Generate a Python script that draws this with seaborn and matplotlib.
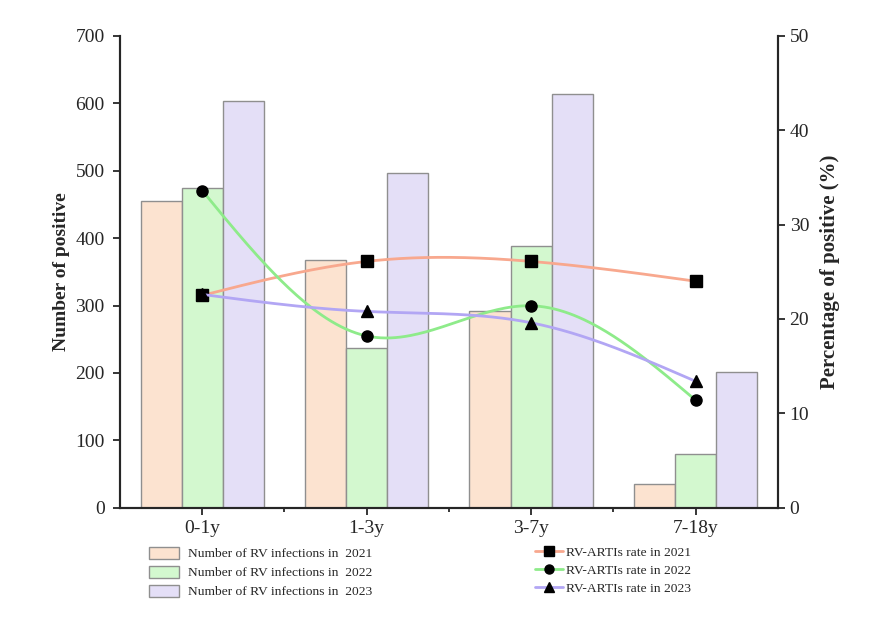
import numpy as np
import pandas as pd
import matplotlib
matplotlib.use("Agg")
import matplotlib.pyplot as plt
import seaborn as sns
from matplotlib.patches import Patch
from matplotlib.lines import Line2D

grupos = ["0-1y", "1-3y", "3-7y", "7-18y"]
anos = ["2021", "2022", "2023"]
casos_2021 = [455, 367, 292, 35]
casos_2022 = [474, 237, 388, 80]
casos_2023 = [603, 497, 614, 202]
taxa_2021 = [22.5, 26.1, 26.1, 24.0]
taxa_2022 = [33.6, 18.2, 21.4, 11.4]
taxa_2023 = [22.6, 20.8, 19.6, 13.4]

cores_barra = ["#FCE3D0", "#D3F8CF", "#E4DFF7"]
cores_linha = ["#F8A88E", "#8EEB8A", "#B2A6F4"]
marcadores = ["s", "o", "^"]


def spline_natural(x, y, n=200):
    # spline cubica natural so para desenhar a curva suave
    x = np.asarray(x, float)
    y = np.asarray(y, float)
    k = len(x)
    h = np.diff(x)
    A = np.zeros((k, k))
    b = np.zeros(k)
    A[0, 0] = 1
    A[-1, -1] = 1
    for i in range(1, k - 1):
        A[i, i - 1] = h[i - 1]
        A[i, i] = 2 * (h[i - 1] + h[i])
        A[i, i + 1] = h[i]
        b[i] = 6 * ((y[i + 1] - y[i]) / h[i] - (y[i] - y[i - 1]) / h[i - 1])
    M = np.linalg.solve(A, b)
    xs = np.linspace(x[0], x[-1], n)
    ys = np.empty_like(xs)
    for j, t in enumerate(xs):
        i = min(np.searchsorted(x, t, side="right") - 1, k - 2)
        a, c = x[i], x[i + 1]
        ys[j] = (M[i] * (c - t) ** 3 / (6 * h[i]) + M[i + 1] * (t - a) ** 3 / (6 * h[i])
                 + (y[i] / h[i] - M[i] * h[i] / 6) * (c - t)
                 + (y[i + 1] / h[i] - M[i + 1] * h[i] / 6) * (t - a))
    return xs, ys


df = pd.DataFrame({
    "grupo": grupos * 3,
    "ano": np.repeat(anos, 4),
    "casos": casos_2021 + casos_2022 + casos_2023,
})

sns.set_style("ticks")
plt.rcParams["font.family"] = ["Liberation Serif", "DejaVu Serif"]
plt.rcParams["axes.linewidth"] = 1.5

fig = plt.figure(figsize=(8.7, 6.17), dpi=100)
ax = fig.add_axes([0.138, 0.177, 0.756, 0.765])

sns.barplot(data=df, x="grupo", y="casos", hue="ano", palette=cores_barra,
            width=0.75, edgecolor="#8f8f8f", linewidth=1.0, saturation=1,
            legend=False, ax=ax)
ax.set_xlim(-0.5, 3.5)
ax.set_ylim(0, 700)
ax.set_yticks(range(0, 701, 100))
ax.set_xticks([0.5, 1.5, 2.5], minor=True)
ax.set_xlabel("")
ax.set_ylabel("Number of positive", fontsize=14, fontweight="bold")
ax.tick_params(axis="both", which="major", labelsize=14, direction="out", length=5, width=1.3)
ax.tick_params(axis="y", pad=6)
ax.tick_params(axis="x", which="minor", length=3, width=1.3)
ax.spines["top"].set_visible(False)

ax2 = ax.twinx()
xpos = np.arange(len(grupos))
for taxa, cor, mk in zip([taxa_2021, taxa_2022, taxa_2023], cores_linha, marcadores):
    xs, ys = spline_natural(xpos, taxa)
    ax2.plot(xs, ys, color=cor, lw=2)
    ax2.plot(xpos, taxa, ls="none", marker=mk, color="black", ms=8)
ax2.set_ylim(0, 50)
ax2.set_yticks(range(0, 51, 10))
ax2.set_ylabel("Percentage of positive (%)", fontsize=15, fontweight="bold", labelpad=8)
ax2.tick_params(axis="y", labelsize=14, direction="out", length=5, width=1.3)
ax2.spines["top"].set_visible(False)
ax2.spines["right"].set_linewidth(1.5)

h_barra = [Patch(facecolor=c, edgecolor="#8f8f8f", label=f"Number of RV infections in  {a}")
           for c, a in zip(cores_barra, anos)]
h_linha = [Line2D([], [], color=c, lw=2, marker=m, mfc="black", mec="black", ms=6.5,
                  label=f"RV-ARTIs rate in {a}")
           for c, m, a in zip(cores_linha, marcadores, anos)]

leg1 = fig.legend(handles=h_barra, loc="upper left", bbox_to_anchor=(0.164, 0.125),
                  frameon=False, fontsize=9.7, handlelength=2.2, handleheight=1.0,
                  labelspacing=0.4, handletextpad=0.7, borderpad=0)
leg2 = fig.legend(handles=h_linha, loc="upper left", bbox_to_anchor=(0.607, 0.125),
                  frameon=False, fontsize=9.7, handlelength=2.1,
                  labelspacing=0.4, handletextpad=0.2, borderpad=0)

fig.savefig("out.png", dpi=100)
